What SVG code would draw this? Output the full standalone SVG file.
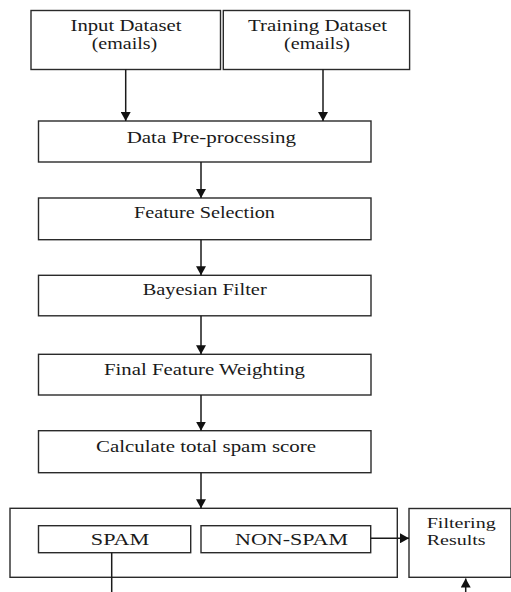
<svg xmlns="http://www.w3.org/2000/svg" width="511" height="592" viewBox="0 0 511 592">
<style>
.box{fill:#fff;stroke:#2a2a2a;stroke-width:1.4}
.t{font-family:"Liberation Serif","Times New Roman",serif;font-size:17px;fill:#1a1a1a;text-anchor:middle}
.tl{font-family:"Liberation Serif","Times New Roman",serif;font-size:15px;fill:#1a1a1a}
.c{stroke:#1a1a1a;stroke-width:1.5;fill:none}
</style>
<defs>
<marker id="ah" markerUnits="userSpaceOnUse" markerWidth="12" markerHeight="10" refX="9" refY="5" orient="auto">
<path d="M0,0 L9,5 L0,10 Z" fill="#111"/>
</marker>
</defs>
<rect width="511" height="592" fill="#fff"/>
<g id="input">
<rect class="box" x="31" y="10.5" width="189.5" height="59"/>
<text class="t" x="126" y="30.5" textLength="111" lengthAdjust="spacingAndGlyphs">Input Dataset</text>
<text class="t" x="124.5" y="48.5" textLength="65.6" lengthAdjust="spacingAndGlyphs">(emails)</text>
</g>
<g id="training">
<rect class="box" x="223.3" y="10.5" width="186.3" height="59"/>
<text class="t" x="317.5" y="30.5" textLength="139" lengthAdjust="spacingAndGlyphs">Training Dataset</text>
<text class="t" x="317" y="48.5" textLength="66" lengthAdjust="spacingAndGlyphs">(emails)</text>
</g>
<g id="preprocessing">
<rect class="box" x="38.5" y="121" width="332.5" height="41"/>
<text class="t" x="211.3" y="142.7" textLength="169.3" lengthAdjust="spacingAndGlyphs">Data Pre-processing</text>
</g>
<g id="feature-selection">
<rect class="box" x="38.5" y="198" width="332.5" height="41.7"/>
<text class="t" x="204.5" y="218.3" textLength="141" lengthAdjust="spacingAndGlyphs">Feature Selection</text>
</g>
<g id="bayesian">
<rect class="box" x="38.5" y="275.3" width="332.5" height="40.5"/>
<text class="t" x="204.7" y="295" textLength="124" lengthAdjust="spacingAndGlyphs">Bayesian Filter</text>
</g>
<g id="weighting">
<rect class="box" x="38.5" y="354.3" width="332.5" height="40.7"/>
<text class="t" x="204.5" y="375" textLength="201" lengthAdjust="spacingAndGlyphs">Final Feature Weighting</text>
</g>
<g id="score">
<rect class="box" x="38.5" y="430.7" width="332.5" height="42"/>
<text class="t" x="206" y="451.7" textLength="220" lengthAdjust="spacingAndGlyphs">Calculate total spam score</text>
</g>
<g id="classification">
<rect class="box" x="10" y="508.3" width="387.3" height="69"/>
</g>
<g id="spam">
<rect class="box" x="38.5" y="525.7" width="152.2" height="27"/>
<text class="t" x="120" y="545" textLength="58.3" lengthAdjust="spacingAndGlyphs">SPAM</text>
</g>
<g id="non-spam">
<rect class="box" x="201" y="525.7" width="169.7" height="27"/>
<text class="t" x="291.5" y="545" textLength="113" lengthAdjust="spacingAndGlyphs">NON-SPAM</text>
</g>
<g id="results">
<rect class="box" x="409" y="508.5" width="102" height="68.8"/>
<text class="tl" x="426.7" y="528" textLength="69" lengthAdjust="spacingAndGlyphs">Filtering</text>
<text class="tl" x="426.7" y="545" textLength="59" lengthAdjust="spacingAndGlyphs">Results</text>
</g>
<g id="connectors">
<line class="c" x1="125.7" y1="69.5" x2="125.7" y2="121" marker-end="url(#ah)"/>
<line class="c" x1="323" y1="69.5" x2="323" y2="121" marker-end="url(#ah)"/>
<line class="c" x1="201" y1="162" x2="201" y2="198" marker-end="url(#ah)"/>
<line class="c" x1="201" y1="239.7" x2="201" y2="275.3" marker-end="url(#ah)"/>
<line class="c" x1="201" y1="315.8" x2="201" y2="354.3" marker-end="url(#ah)"/>
<line class="c" x1="201" y1="395" x2="201" y2="430.7" marker-end="url(#ah)"/>
<line class="c" x1="201" y1="472.7" x2="201" y2="508.3" marker-end="url(#ah)"/>
<line class="c" x1="370.7" y1="538.3" x2="409" y2="538.3" marker-end="url(#ah)"/>
<line class="c" x1="111.7" y1="552.7" x2="111.7" y2="592"/>
<line class="c" x1="465.7" y1="592" x2="465.7" y2="578.5" marker-end="url(#ah)"/>
</g>
</svg>
